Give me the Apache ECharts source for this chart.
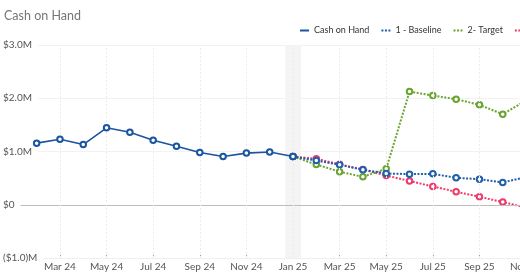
<!DOCTYPE html>
<html><head><meta charset="utf-8">
<script src="https://cdn.jsdelivr.net/npm/echarts@6/dist/echarts.min.js"></script>
<style>html,body{margin:0;padding:0;overflow:hidden;background:#fff;}#c{width:700px;height:272px;}</style>
</head><body><div id="c"></div>
<script>
const months = ['Feb 24','Mar 24','Apr 24','May 24','Jun 24','Jul 24','Aug 24','Sep 24','Oct 24','Nov 24','Dec 24','Jan 25','Feb 25','Mar 25','Apr 25','May 25','Jun 25','Jul 25','Aug 25','Sep 25','Oct 25','Nov 25','Dec 25'];
const labelMonths = ['Mar 24','May 24','Jul 24','Sep 24','Nov 24','Jan 25','Mar 25','May 25','Jul 25','Sep 25','Nov 25'];
const cashOnHand = [1.157,1.23,1.13,1.445,1.36,1.21,1.10,0.98,0.906,0.97,0.99,0.906];
const forecastStart = 'Jan 25';
const baseline = [0.906,0.83,0.75,0.657,0.587,0.575,0.58,0.506,0.48,0.418,0.52,0.49];
const target = [0.906,0.756,0.62,0.525,0.675,2.126,2.05,1.983,1.876,1.70,1.955,1.9];
const downside = [0.906,0.863,0.76,0.66,0.55,0.445,0.343,0.244,0.15,0.05,-0.05,-0.15];
const yTickValues = [-1,0,1,2,3];
const yTickLabels = ['($1.0)M','$0','$1.0M','$2.0M','$3.0M'];
const seriesNames = ['Cash on Hand','1 - Baseline','2- Target','3 - Downside'];

const fs = months.indexOf(forecastStart);
const tickIdx = labelMonths.map(m => months.indexOf(m));
const toPts = (arr, start) => arr.map((v,i) => [start + i, v]);
const dotted = 'path://M0,0h2v2h-2zM3.5,0h2v2h-2zM7,0h2v2h-2z';
const FONT = 'Lato, "Noto Sans", sans-serif';

const chart = echarts.init(document.getElementById('c'), null, {renderer:'canvas'});
const common = {type:'line', symbol:'emptyCircle', symbolSize:5.5, smooth:false, silent:true};
chart.setOption({
  animation:false,
  textStyle:{fontFamily:FONT},
  title:{text:'Cash on Hand', left:-1, top:4, textStyle:{fontSize:12.5, fontWeight:'normal', color:'#767676', fontFamily:FONT}},
  legend:{left:300, top:26, padding:0, itemWidth:9, itemHeight:2, itemGap:12,
    textStyle:{fontSize:9, color:'#333', fontFamily:FONT},
    data:[{name:seriesNames[0], icon:'rect'},{name:seriesNames[1], icon:dotted},{name:seriesNames[2], icon:dotted},{name:seriesNames[3], icon:dotted}]},
  grid:{left:15, right:132, top:45, bottom:13.7},
  xAxis:{type:'value', min:-0.8, max:22.8,
    axisLine:{show:true, onZero:false, lineStyle:{color:'#efefef'}},
    axisTick:{show:true, customValues:tickIdx, inside:true, length:3, lineStyle:{color:'#999'}},
    axisLabel:{customValues:tickIdx, formatter:v => months[v], color:'#555', fontSize:10, margin:4, fontFamily:FONT},
    splitLine:{show:false}},
  yAxis:[
    {type:'value', min:-1, max:3, interval:1, axisLabel:{show:false}, axisLine:{show:false}, axisTick:{show:false},
     splitLine:{lineStyle:{color:'#f2f2f2'}}},
    {type:'value', min:-1, max:3, interval:1, position:'left', z:5, axisLine:{show:false}, axisTick:{show:false}, splitLine:{show:false},
     axisLabel:{align:'left', margin:15, color:'#555', fontSize:10, fontFamily:FONT, backgroundColor:'#fff', padding:[1,6,1,0],
       formatter:v => yTickLabels[yTickValues.indexOf(v)]}}
  ],
  series:[
    Object.assign({}, common, {name:seriesNames[3], z:2, data:toPts(downside, fs),
      lineStyle:{color:'#ee3a6a', width:2, type:[2,1.5]}, itemStyle:{color:'#ee3a6a', borderWidth:1.3},
      markArea:{silent:true, itemStyle:{color:'#f4f4f4'}, data:[[{xAxis:fs-0.33},{xAxis:fs+0.35}]]},
      markLine:{silent:true, symbol:'none', label:{show:false},
        data:[{yAxis:0, lineStyle:{color:'#bdbdbd', width:1, type:'solid'}}].concat(tickIdx.map(i => ({xAxis:i, lineStyle:{color:'#ececec', width:1, type:[2,2]}})))}
    }),
    Object.assign({}, common, {name:seriesNames[2], z:3, data:toPts(target, fs),
      lineStyle:{color:'#6aa42f', width:2, type:[2,1.5]}, itemStyle:{color:'#6aa42f', borderWidth:1.3}}),
    Object.assign({}, common, {name:seriesNames[1], z:4, data:toPts(baseline, fs),
      lineStyle:{color:'#1f5fae', width:2, type:[2,1.5]}, itemStyle:{color:'#1f5fae', borderWidth:1.3}}),
    Object.assign({}, common, {name:seriesNames[0], z:5, data:toPts(cashOnHand, 0),
      lineStyle:{color:'#1a55a0', width:1.6, type:'solid'}, itemStyle:{color:'#1a55a0', borderWidth:1.3}})
  ]
});
</script></body></html>
